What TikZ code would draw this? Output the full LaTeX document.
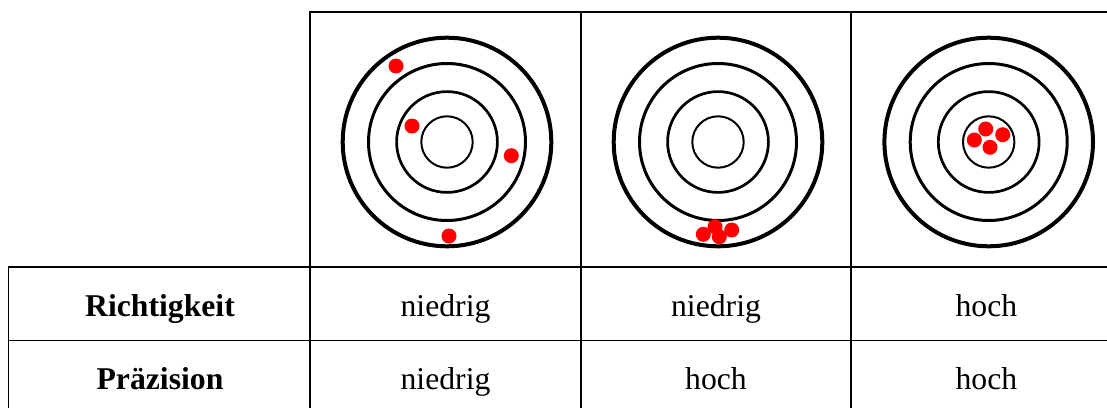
\documentclass[tikz,border=0pt]{standalone}
\usepackage{fontspec}
\setmainfont{Liberation Serif}
\begin{document}
\begin{tikzpicture}[x=1pt,y=-1pt,
  grid/.style={line width=1.8pt,line cap=rect},
  ringA/.style={line width=4pt},
  ringB/.style={line width=3pt},
  ringC/.style={line width=2.7pt},
  ringD/.style={line width=2pt},
  hit/.style={fill=red},
  cell/.style={anchor=base,inner sep=0pt,font=\fontsize{31.7}{38}\selectfont},
  head/.style={anchor=base,inner sep=0pt,font=\fontsize{31.7}{38}\selectfont\bfseries}]
\useasboundingbox (0,0) rectangle (1107,407);
% table grid
\coordinate (g0) at (310,12);
\coordinate (g1) at (1130,12);
\draw[grid,line cap=butt] (310,420) -- (g0) -- (g1);
\draw[grid] (581,12) -- (581,420);
\draw[grid] (851,12) -- (851,420);
\draw[grid,line cap=butt] (1130,267) -- (8.5,267) -- (8.5,420);
\draw[grid] (8.5,340.5) -- (1130,340.5);
% targets
\foreach \cx/\n in {447/a,718/b,988.7/c}{
  \coordinate (t\n) at (\cx,142);
  \draw[ringA] (t\n) circle[radius=104.3pt];
  \draw[ringB] (t\n) circle[radius=78.5pt];
  \draw[ringC] (t\n) circle[radius=50.4pt];
  \draw[ringD] (t\n) circle[radius=25.7pt];
}
% hits target a
\fill[hit] (396,66) circle[radius=7.5pt];
\fill[hit] (412,126) circle[radius=7.5pt];
\fill[hit] (511.3,155.7) circle[radius=7.5pt];
\fill[hit] (449,236) circle[radius=7.5pt];
% hits target b
\fill[hit] (703.3,234.3) circle[radius=7.5pt];
\fill[hit] (715,226.7) circle[radius=7.5pt];
\fill[hit] (719.3,236.7) circle[radius=7.5pt];
\fill[hit] (731.7,230) circle[radius=7.5pt];
% hits target c
\fill[hit] (974.3,140) circle[radius=7.5pt];
\fill[hit] (985.7,129) circle[radius=7.5pt];
\fill[hit] (1002.7,134.7) circle[radius=7.5pt];
\fill[hit] (990,147.3) circle[radius=7.5pt];
% texts
\node[head] (h1) at (160,316) {Richtigkeit};
\node[head] (h2) at (160,389) {Präzision};
\node[cell] (a1) at (445.5,316) {niedrig};
\node[cell] (a2) at (445.5,389) {niedrig};
\node[cell] (b1) at (716,316) {niedrig};
\node[cell] (b2) at (716,389) {hoch};
\node[cell] (c1) at (986.4,316) {hoch};
\node[cell] (c2) at (986.4,389) {hoch};
\end{tikzpicture}
\end{document}
